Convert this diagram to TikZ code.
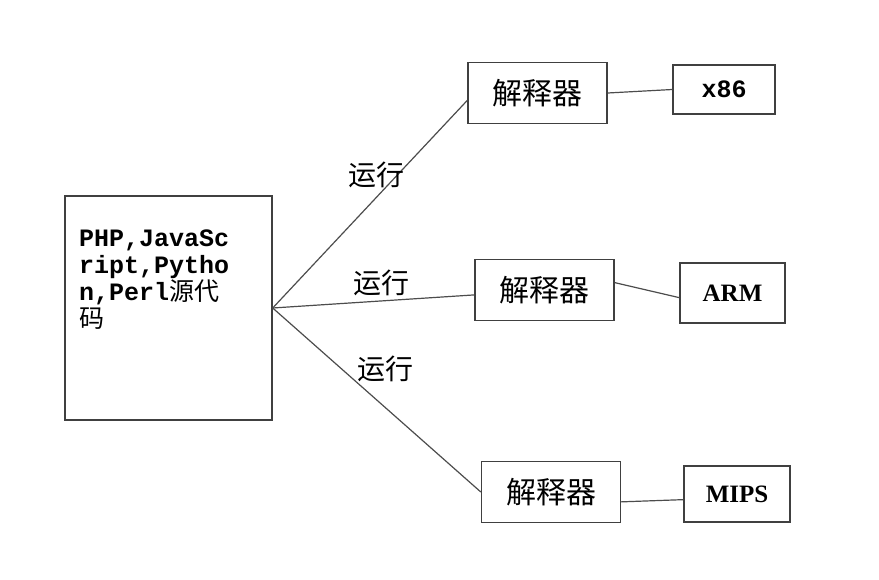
\documentclass[tikz,border=0pt]{standalone}
\usepackage{fontspec}
\setmainfont{Liberation Serif}
\setmonofont{Liberation Mono}
\newfontfamily\cjk{Noto Sans CJK SC}
\usetikzlibrary{positioning}

\begin{document}
\begin{tikzpicture}[x=1pt,y=-1pt,
    box/.style={draw=black!75, line width=1.4pt, rectangle, inner sep=0pt},
    link/.style={draw=black!70, line width=1.2pt},
    interp/.style={box, minimum width=139pt, minimum height=61pt, font=\cjk\fontsize{30}{32}\selectfont},
    arch/.style={box, font=\bfseries\fontsize{25}{28}\selectfont},
    runlbl/.style={font=\cjk\fontsize{28}{30}\selectfont, inner sep=0pt}]
    \useasboundingbox (0,0) rectangle (879,580);

    % Source code box
    \node[box, minimum width=207pt, minimum height=224pt] (src) at (168.5,308) {};
    \node[anchor=north west, align=left, inner sep=0pt,
          font=\ttfamily\bfseries\fontsize{25}{27}\selectfont] (srctext) at (79,230)
        {PHP,JavaSc\\ript,Pytho\\n,Perl{\cjk\mdseries 源代}\\{\cjk\mdseries 码}};

    % Interpreters
    \node[interp] (int1) at (537.5,93) {解释器};
    \node[interp] (int2) at (544.5,290) {解释器};
    \node[interp] (int3) at (551,492) {解释器};

    % Target platforms
    \node[arch, minimum width=102pt, minimum height=49pt, font=\ttfamily\bfseries\fontsize{25}{28}\selectfont] (x86) at (724,89.5) {x86};
    \node[arch, minimum width=105pt, minimum height=60pt] (arm) at (732.5,293) {ARM};
    \node[arch, minimum width=106pt, minimum height=56pt] (mips) at (737,494) {MIPS};

    % Connections from source to interpreters
    \draw[link] (src.east) -- (int1.186);
    \draw[link] (src.east) -- (int2.184);
    \draw[link] (src.east) -- (int3.west);

    % Interpreters to platforms
    \draw[link] (int1.east) -- (x86.west);
    \draw[link] (int2.6) -- (arm.185);
    \draw[link] (int3.-8) -- (mips.186);

    % Labels on the links
    \node[runlbl] (run1) at (376,175) {运行};
    \node[runlbl] (run2) at (381,283) {运行};
    \node[runlbl] (run3) at (385,369) {运行};
\end{tikzpicture}
\end{document}
